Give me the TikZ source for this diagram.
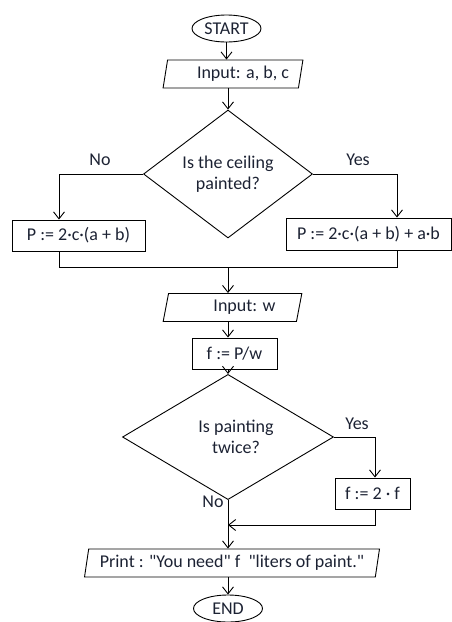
\documentclass[tikz,border=0pt]{standalone}
\usepackage{fontspec}
\setmainfont{Carlito}
\usepackage{tikz}
\usetikzlibrary{positioning,arrows.meta,shapes.geometric}
\usepackage{xcolor}
\definecolor{inkblue}{HTML}{1C2233}

\begin{document}
\begin{tikzpicture}[
    x=1pt, y=-1pt,
    every node/.style={font=\fontsize{18}{21.5}\selectfont, text=inkblue},
    terminal/.style={draw, ellipse, minimum width=69pt, minimum height=27pt, inner sep=0pt},
    io/.style={draw, trapezium, trapezium left angle=76, trapezium right angle=104, trapezium stretches=true, minimum height=28pt, inner sep=0pt},
    process/.style={draw, rectangle, minimum height=31pt, inner sep=0pt},
    decision/.style={draw, diamond, align=center, inner sep=0pt},
    flow/.style={-{Straight Barb[length=7pt,width=11pt]}, line width=0.9pt},
    link/.style={line width=0.9pt},
    every path/.style={line width=0.9pt}
]
    \useasboundingbox (0,0) rectangle (452,622);

    % Colonne di riferimento
    \coordinate (mid) at (228,0);
    \coordinate (lft) at (59,0);
    \coordinate (rgt) at (397,0);
    \coordinate (rgt2) at (375,0);

    % Blocchi principali
    \node[terminal] (start) at (226.5,28.5) {START};
    \node[io, minimum width=140pt] (inabc) at (233,74) {\hspace*{20pt}Input: a, b, c};
    \node[decision, minimum width=169pt, minimum height=93pt] (ceil) at (228,174) {Is the ceiling\\painted?};
    \node[process, minimum width=133pt] (pwalls) at (78.5,235.5) {P := 2·c·(a + b)};
    \node[process, minimum width=165pt, minimum height=32pt] (pceil) at (368.5,234) {P := 2·c·(a + b) + a·b};
    \node[io, minimum width=139pt] (inw) at (232.5,307.5) {\hspace*{24pt}Input: w};
    \node[process, minimum width=85pt] (fdiv) at (234.5,353.5) {f := P/w};
    \node[decision, minimum width=211pt, minimum height=100pt] (twice) at (228,437) {\hspace*{16pt}Is painting\\\hspace*{16pt}twice?};
    \node[process, minimum width=75pt] (fdbl) at (372.5,493.5) {f := 2 · f};
    \node[io, minimum width=296pt] (out) at (232,563) {Print : \textquotedbl You need\textquotedbl{} f \ \textquotedbl liters of paint.\textquotedbl};
    \node[terminal] (stop) at (228,608.5) {END};

    % Etichette dei rami
    \node (no1) at (100,160) {No};
    \node (yes1) at (358,160) {Yes};
    \node (yes2) at (357,424) {Yes};
    \node (no2) at (213,502) {No};

    % Punti di unione
    \coordinate (join1) at (228,267);
    \coordinate (join2) at (228,525);

    % Connessioni
    \draw[flow] (start) -- (start |- inabc.north);
    \draw[flow] (inabc.south -| mid) -- (ceil);
    \draw[flow] (ceil.west) -| (pwalls.north -| lft);
    \draw[flow] (ceil.east) -| (pceil.north -| rgt);
    \draw[link] (pwalls.south -| lft) |- (join1 -| rgt) -- (pceil.south -| rgt);
    \draw[flow] (join1) -- (inw.north -| mid);
    \draw[flow] (inw.south -| mid) -- (fdiv.north -| mid);
    \draw[flow] (fdiv.south -| mid) -- (twice);
    \draw[flow] (twice.east) -| (fdbl.north -| rgt2);
    \draw[link] (twice.south) -- (join2);
    \draw[flow] (fdbl.south -| rgt2) |- (join2);
    \draw[flow] (join2) -- (out.north -| mid);
    \draw[flow] (out.south -| mid) -- (stop);

\end{tikzpicture}
\end{document}
